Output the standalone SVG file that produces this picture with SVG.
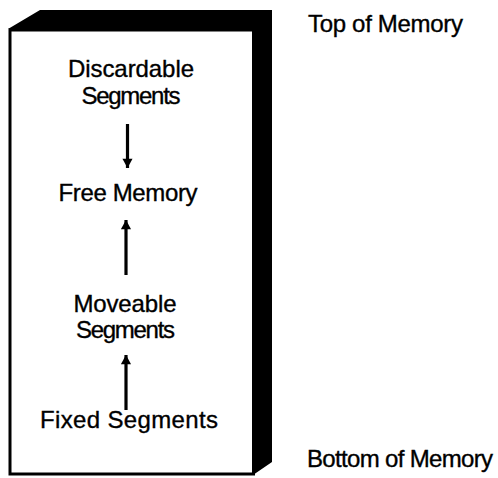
<svg xmlns="http://www.w3.org/2000/svg" width="498" height="478" viewBox="0 0 498 478">
<style>
text{font-family:"Liberation Sans",Arial,Helvetica,sans-serif;font-size:24px;fill:#000;stroke:#000;stroke-width:0.35;}
.c{text-anchor:middle;}
.ln{stroke:#000;stroke-width:3.2;fill:none;}
</style>
<defs>
<marker id="ah" viewBox="0 0 10 12" refX="10" refY="6" markerWidth="12" markerHeight="11" markerUnits="userSpaceOnUse" orient="auto">
<path d="M0,0.5 L10,6 L0,11.5 Z" fill="#000"/>
</marker>
</defs>
<rect width="498" height="478" fill="#fff"/>
<g id="box">
<polygon points="8,29 40,10 272,10 272,462 253,475 253,29" fill="#000"/>
<rect x="10" y="30" width="243.5" height="444" fill="#fff" stroke="#000" stroke-width="3"/>
</g>
<g id="discardable">
<text class="c" x="131" y="77" textLength="126">Discardable</text>
<text class="c" x="131" y="104" textLength="99">Segments</text>
</g>
<g id="free">
<text class="c" x="128" y="201" textLength="139">Free Memory</text>
</g>
<g id="moveable">
<text class="c" x="125" y="312" textLength="103">Moveable</text>
<text class="c" x="125.5" y="338" textLength="99">Segments</text>
</g>
<g id="fixed">
<text class="c" x="129" y="428" textLength="178">Fixed Segments</text>
</g>
<g id="top-label">
<text x="308" y="32" textLength="155">Top of Memory</text>
</g>
<g id="bottom-label">
<text x="307" y="467" textLength="186">Bottom of Memory</text>
</g>
<g id="connectors">
<line class="ln" x1="127.5" y1="124" x2="127.5" y2="168" marker-end="url(#ah)"/>
<line class="ln" x1="126" y1="275" x2="126" y2="220" marker-end="url(#ah)"/>
<line class="ln" x1="126" y1="410" x2="126" y2="355" marker-end="url(#ah)"/>
</g>
</svg>
